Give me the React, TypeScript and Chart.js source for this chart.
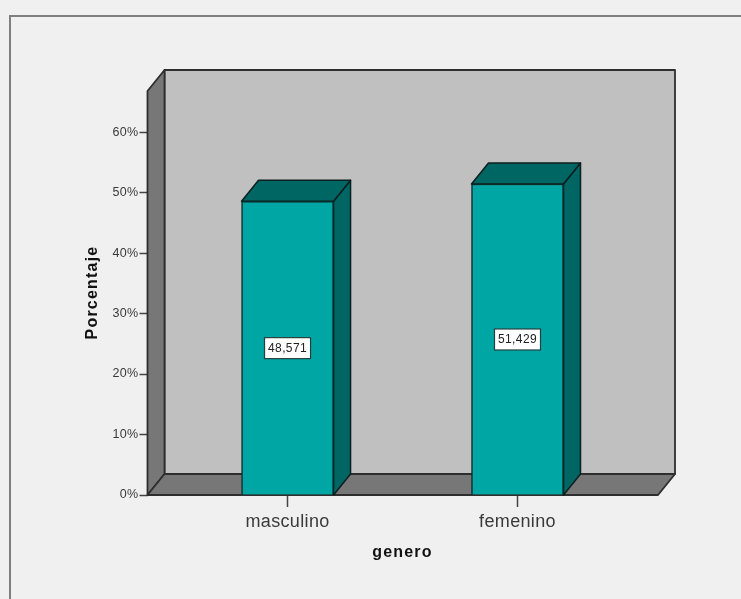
import React, { useEffect, useRef } from "react";
import { Chart, registerables } from "chart.js";

Chart.register(...registerables);

const categories = ["masculino", "femenino"];
const percentages = [48.571, 51.429];
const valueLabels = ["48,571", "51,429"];
const yTicks = [0, 10, 20, 30, 40, 50, 60];
const xTitle = "genero";
const yTitle = "Porcentaje";

const FONT = '"Liberation Sans", Arial, sans-serif';
const DEPTH_X = 17;
const DEPTH_Y = -21;
const BAR_WIDTH = 92;

type Pt = [number, number];

function poly(ctx: CanvasRenderingContext2D, pts: Pt[], fill: string, stroke: string, lw: number) {
  ctx.beginPath();
  pts.forEach(([x, y], i) => (i ? ctx.lineTo(x, y) : ctx.moveTo(x, y)));
  ctx.closePath();
  ctx.fillStyle = fill;
  ctx.fill();
  ctx.lineWidth = lw;
  ctx.strokeStyle = stroke;
  ctx.lineJoin = "round";
  ctx.stroke();
}

// Outer frame, visible only along the top and left sides.
const framePlugin = {
  id: "frame",
  beforeDraw(chart: Chart) {
    const { ctx, width, height } = chart;
    (ctx as any).letterSpacing = "0.35px";
    ctx.save();
    ctx.fillStyle = "#f0f0f0";
    ctx.fillRect(0, 0, width, height);
    ctx.strokeStyle = "#7f7f7f";
    ctx.lineWidth = 2;
    ctx.beginPath();
    ctx.moveTo(width, 16);
    ctx.lineTo(10, 16);
    ctx.lineTo(10, height);
    ctx.stroke();
    ctx.restore();
  },
};

// Back wall, side wall, floor and the extruded faces of each bar.
const box3dPlugin = {
  id: "box3d",
  beforeDatasetsDraw(chart: Chart) {
    const { ctx, chartArea: a } = chart;
    const dx = DEPTH_X;
    const dy = DEPTH_Y;
    const wallLine = "#2e2e2e";
    ctx.save();
    poly(ctx, [[a.left + dx, a.top + dy], [a.right + dx, a.top + dy], [a.right + dx, a.bottom + dy], [a.left + dx, a.bottom + dy]], "#c0c0c0", wallLine, 1.8);
    poly(ctx, [[a.left, a.top], [a.left + dx, a.top + dy], [a.left + dx, a.bottom + dy], [a.left, a.bottom]], "#777777", wallLine, 1.8);
    poly(ctx, [[a.left, a.bottom], [a.left + dx, a.bottom + dy], [a.right + dx, a.bottom + dy], [a.right, a.bottom]], "#777777", wallLine, 1.8);
    const x = chart.scales.x;
    const y = chart.scales.y;
    percentages.forEach((v, i) => {
      const cx = x.getPixelForValue(i);
      const l = cx - BAR_WIDTH / 2;
      const r = cx + BAR_WIDTH / 2;
      const t = y.getPixelForValue(v);
      const b = y.getPixelForValue(0);
      poly(ctx, [[r, t], [r + dx, t + dy], [r + dx, b + dy], [r, b]], "#006663", "#0a1f1f", 1.5);
      poly(ctx, [[l, t], [l + dx, t + dy], [r + dx, t + dy], [r, t]], "#006663", "#0a1f1f", 1.5);
    });
    ctx.restore();
  },
  afterDatasetsDraw(chart: Chart) {
    const { ctx } = chart;
    const x = chart.scales.x;
    const y = chart.scales.y;
    ctx.save();
    ctx.font = `12px ${FONT}`;
    ctx.textAlign = "center";
    ctx.textBaseline = "middle";
    (ctx as any).letterSpacing = "0.4px";
    percentages.forEach((v, i) => {
      const cx = x.getPixelForValue(i);
      const cy = y.getPixelForValue(v / 2);
      ctx.fillStyle = "#ffffff";
      ctx.fillRect(cx - 23, cy - 10.5, 46, 21);
      ctx.strokeStyle = "#23413f";
      ctx.lineWidth = 1.2;
      ctx.strokeRect(cx - 23, cy - 10.5, 46, 21);
      ctx.fillStyle = "#222222";
      ctx.fillText(valueLabels[i], cx, cy + 0.5);
    });
    ctx.restore();
  },
  afterDraw(chart: Chart) {
    const { ctx } = chart;
    ctx.save();
    ctx.font = `bold 16px ${FONT}`;
    ctx.fillStyle = "#111111";
    ctx.textAlign = "center";
    ctx.textBaseline = "middle";
    (ctx as any).letterSpacing = "1.2px";
    ctx.fillText(xTitle, 402.5, 553);
    ctx.translate(92.5, 292.5);
    ctx.rotate(-Math.PI / 2);
    ctx.fillText(yTitle, 0, 0);
    ctx.restore();
  },
};

export default function App() {
  const ref = useRef<HTMLCanvasElement>(null);
  useEffect(() => {
    const chart = new Chart(ref.current!, {
      type: "bar",
      data: {
        datasets: [
          {
            data: percentages.map((v, i) => ({ x: i, y: v })) as any,
            backgroundColor: "#00a6a3",
            borderColor: "#0a2a2a",
            borderWidth: 1.5,
            barThickness: BAR_WIDTH,
          },
        ],
      },
      options: {
        responsive: false,
        animation: false,
        layout: { padding: { left: 84, right: 83, top: 91, bottom: 30 } },
        plugins: { legend: { display: false }, tooltip: { enabled: false } },
        scales: {
          x: {
            type: "linear",
            offset: false,
            min: -0.609,
            max: 1.611,
            border: { display: false },
            grid: { offset: false, drawOnChartArea: false, drawTicks: true, tickLength: 12, tickWidth: 1.5, tickColor: "#444444" },
            afterBuildTicks: (s: any) => {
              s.ticks = categories.map((_, i) => ({ value: i }));
            },
            afterFit: (s: any) => {
              s.height = 74;
            },
            ticks: {
              autoSkip: false,
              maxRotation: 0,
              padding: 4,
              color: "#3a3a3a",
              font: { family: FONT, size: 18 },
              callback: (v: any) => categories[v as number],
            },
          },
          y: {
            type: "linear",
            min: 0,
            max: 66.8,
            border: { display: false },
            grid: { drawOnChartArea: false, drawTicks: true, tickLength: 8, tickWidth: 1.5, tickColor: "#444444" },
            afterBuildTicks: (s: any) => {
              s.ticks = yTicks.map((value) => ({ value }));
            },
            afterFit: (s: any) => {
              s.width = 63.5;
            },
            ticks: {
              padding: 1,
              color: "#3a3a3a",
              font: { family: FONT, size: 12.5 },
              callback: (v: any) => `${v}%`,
            },
          },
        },
      },
      plugins: [framePlugin, box3dPlugin],
    } as any);
    return () => chart.destroy();
  }, []);
  return (
    <canvas
      ref={ref}
      width={741}
      height={599}
      style={{ position: "absolute", left: 0, top: 0, display: "block" }}
    />
  );
}
